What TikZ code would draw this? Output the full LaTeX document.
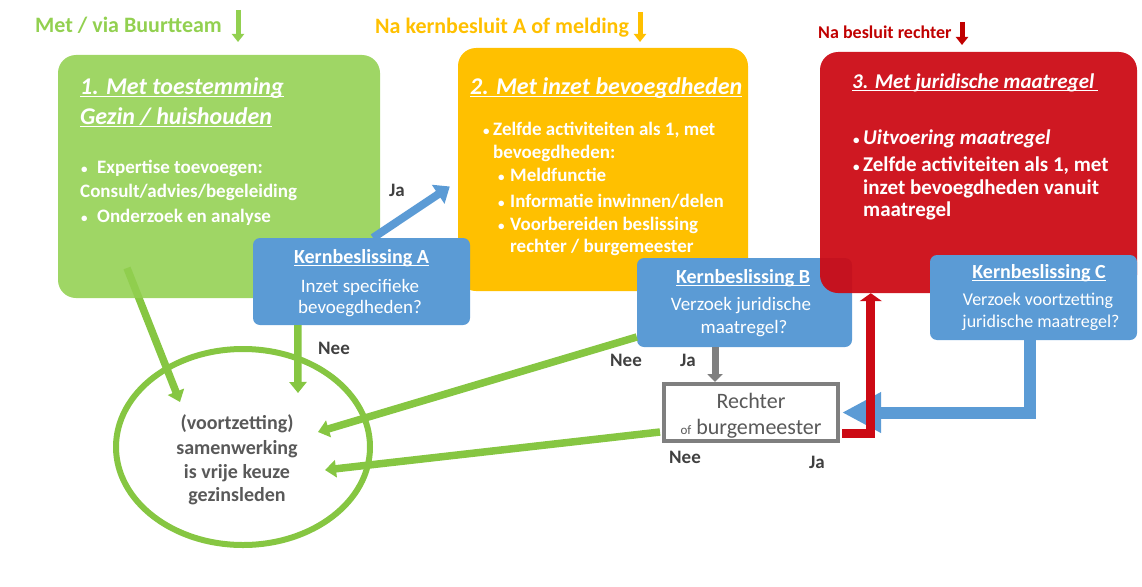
\documentclass[tikz,border=0pt]{standalone}
\usepackage{fontspec}
\setmainfont{Carlito}
\usetikzlibrary{arrows.meta,calc,shapes.geometric}
\definecolor{cgreen}{HTML}{92D050}
\definecolor{cgreenline}{HTML}{86C642}
\definecolor{cyellow}{HTML}{FFC000}
\definecolor{cred}{HTML}{CC0A14}
\definecolor{cblue}{HTML}{5B9BD5}
\definecolor{cgray}{HTML}{595959}
\definecolor{cdark}{HTML}{404040}
\definecolor{cborder}{HTML}{7F7F7F}
\definecolor{clabred}{HTML}{C00000}
\newcommand\myul[1]{\setbox0\hbox{#1}\rlap{\rule[-3pt]{\wd0}{1.3pt}}\box0}
\newcommand\fs[1]{\fontsize{#1}{#1}\selectfont}
\newcommand\bul{{\fontsize{13}{13}\selectfont\upshape •}}
\tikzset{
  bigbox/.style={rounded corners=18pt, inner sep=0pt},
  kbox/.style={rounded corners=7pt, inner sep=0pt, fill=cblue},
  wt/.style={inner sep=0pt, anchor=base west, text=white},
  wc/.style={inner sep=0pt, anchor=base, text=white},
  gc/.style={inner sep=0pt, anchor=base, text=cgray},
  yn/.style={inner sep=0pt, anchor=center, text=cdark, font=\fs{19}\bfseries},
  toplbl/.style={inner sep=0pt, anchor=base west, font=\fs{22}\bfseries},
  topar/.style={line width=5pt, -{Triangle[length=8pt,width=12pt]}},
  garr/.style={draw=cgreenline, line width=7.5pt, -{Triangle[length=11pt,width=17pt]}},
  barr/.style={draw=cblue, line width=8pt, -{Triangle[length=14pt,width=22pt]}},
}
\begin{document}
\begin{tikzpicture}[x=1pt,y=-1pt]
\useasboundingbox (0,0) rectangle (1142,586);

% top labels
\node[toplbl, text=cgreen] (L1) at (35,33) {Met / via Buurtteam};
\draw[topar, draw=cgreen] ($(L1.base west)+(203,-23)$) -- ($(L1.base west)+(203,9)$);
\node[toplbl, text=cyellow] (L2) at (375,34) {Na kernbesluit A of melding};
\draw[topar, draw=cyellow] ($(L2.base west)+(265,-22)$) -- ($(L2.base west)+(265,8)$);
\node[toplbl, text=clabred, font=\fs{18}\bfseries] (L3) at (818,38) {Na besluit rechter};
\draw[topar, draw=clabred] ($(L3.base west)+(144,-16)$) -- ($(L3.base west)+(144,7)$);

% ellipse and the arrow leaving box 1 (box 1 is laid slightly transparent over it)
\node[ellipse, draw=cgreenline, line width=6pt, inner sep=0pt, minimum width=254pt, minimum height=196pt] (E) at (243,447) {};
\node[gc, font=\fs{20}\bfseries] (e1) at (237,429) {(voortzetting)};
\node[gc, font=\fs{20}\bfseries] (e2) at (237,454) {samenwerking};
\node[gc, font=\fs{20}\bfseries] (e3) at (237,478) {is vrije keuze};
\node[gc, font=\fs{20}\bfseries] (e4) at (237,501) {gezinsleden};

% box 1
\coordinate (gstart) at (127,268);
\draw[garr] (gstart) -- ($(E.center)+(-63,-45)$);
\node[bigbox, fill=cgreen, fill opacity=0.88, minimum width=322pt, minimum height=243pt] (G) at (219,176.5) {};
\node[wt, font=\fs{24}\bfseries\itshape] (g1) at (80,94) {\myul{1. Met toestemming}};
\node[wt, font=\fs{24}\bfseries\itshape] (g2) at (80,124) {\myul{Gezin / huishouden}};
\node[wt, font=\fs{19}\bfseries] (g3) at (81,173) {\makebox[16pt][l]{\bul}Expertise toevoegen:};
\node[wt, font=\fs{19}\bfseries] (g4) at (80,197) {Consult/advies/begeleiding};
\node[wt, font=\fs{19}\bfseries] (g5) at (81,222) {\makebox[16pt][l]{\bul}Onderzoek en analyse};

% box 2
\node[bigbox, fill=cyellow, minimum width=290pt, minimum height=243pt] (Y) at (603,169.5) {};
\node[wt, font=\fs{24}\bfseries\itshape] (y1) at (470,94) {\myul{2. Met inzet bevoegdheden}};
\node[wt, font=\fs{19}\bfseries] (y2) at (483,135) {\makebox[10pt][l]{\bul}Zelfde activiteiten als 1, met};
\node[wt, font=\fs{19}\bfseries] (y3) at (493,158) {bevoegdheden:};
\node[wt, font=\fs{19}\bfseries] (y4) at (498,181) {\makebox[12pt][l]{\bul}Meldfunctie};
\node[wt, font=\fs{19}\bfseries] (y5) at (498,207) {\makebox[12pt][l]{\bul}Informatie inwinnen/delen};
\node[wt, font=\fs{19}\bfseries] (y6) at (498,230) {\makebox[12pt][l]{\bul}Voorbereiden beslissing};
\node[wt, font=\fs{19}\bfseries] (y7) at (510,252) {rechter / burgemeester};

% Kernbeslissing A
\node[kbox, minimum width=217pt, minimum height=87pt] (A) at (361.5,281.5) {};
\node[wc, font=\fs{20}\bfseries] (a1) at (361.5,263) {\myul{Kernbeslissing A}};
\node[wc, font=\fs{19}] (a2) at (360,292) {Inzet specifieke};
\node[wc, font=\fs{19}] (a3) at (360,313) {bevoegdheden?};
\draw[barr] ($(A.north)+(11.5,0)$) -- ($(Y.west)+(-8,17)$);
\node[yn] (ja1) at (397,190) {Ja};
\draw[garr] ($(A.south west)+(45,0)$) -- ($(E.center)+(55,-54)$);
\node[yn] (nee1) at (334,348) {Nee};

% Kernbeslissing B
\node[kbox, minimum width=215pt, minimum height=89pt] (B) at (744.5,302.5) {};
\node[wc, font=\fs{20}\bfseries] (b1) at (743,283) {\myul{Kernbeslissing B}};
\node[wc, font=\fs{19}] (b2) at (741,310) {Verzoek juridische};
\node[wc, font=\fs{19}] (b3) at (744,333) {maatregel?};

% box 3 (laid over the corner of Kernbeslissing B)
\node[bigbox, fill=cred, fill opacity=0.94, minimum width=317pt, minimum height=241pt] (Rd) at (978.5,172.5) {};
\node[wt, font=\fs{21}\bfseries\itshape] (r1) at (852,88) {\myul{3. Met juridische maatregel\hspace{4pt}}};
\node[wt, font=\fs{21}\bfseries\itshape] (r2) at (853,144) {\makebox[10pt][l]{\bul}Uitvoering maatregel};
\node[wt, font=\fs{21}\bfseries] (r3) at (853,171) {\makebox[10pt][l]{\bul}Zelfde activiteiten als 1, met};
\node[wt, font=\fs{21}\bfseries] (r4) at (863,194) {inzet bevoegdheden vanuit};
\node[wt, font=\fs{21}\bfseries] (r5) at (863,216) {maatregel};

% Kernbeslissing C
\node[kbox, minimum width=207pt, minimum height=85pt] (C) at (1033.5,297.5) {};
\node[wc, font=\fs{20}\bfseries] (c1) at (1039,278) {\myul{Kernbeslissing C}};
\node[wc, font=\fs{18}] (c2) at (1038,305) {Verzoek voortzetting};
\node[wc, font=\fs{18}] (c3) at (1041,327) {juridische maatregel?};

% Rechter
\node[draw=cborder, line width=4pt, fill=white, inner sep=0pt, minimum width=174pt, minimum height=57pt] (R) at (751,412.5) {};
\node[gc, font=\fs{22}] (rt1) at (751,408) {Rechter};
\node[gc, font=\fs{22}] (rt2) at (751,434) {{\fs{13}of} burgemeester};

\draw[draw=cborder, line width=7pt, -{Triangle[length=8pt,width=15pt]}] ($(B.south)+(-29.5,0)$) -- ($(R.north)+(-36,0)$);
\node[yn] (nee2) at (626,360) {Nee};
\node[yn] (ja2) at (688,360) {Ja};

\draw[garr] ($(B.west)+(0,34.5)$) -- ($(E.center)+(75,-15)$);
\draw[garr] ($(R.west)+(-2,19.5)$) -- ($(E.center)+(82,23)$);
\node[yn] (nee3) at (685,457) {Nee};
\node[yn] (ja3) at (817,462) {Ja};

\draw[draw=cblue, line width=12pt, -{Triangle[length=39pt,width=38pt]}] ($(C.south)+(-3.5,0)$) |- ($(R.east)+(2,0)$);
\draw[draw=cred, line width=9pt, -{Triangle[length=8pt,width=22pt]}] ($(R.east)+(2,20.5)$) -| ($(Rd.south west)+(51,0)$);
\end{tikzpicture}
\end{document}
